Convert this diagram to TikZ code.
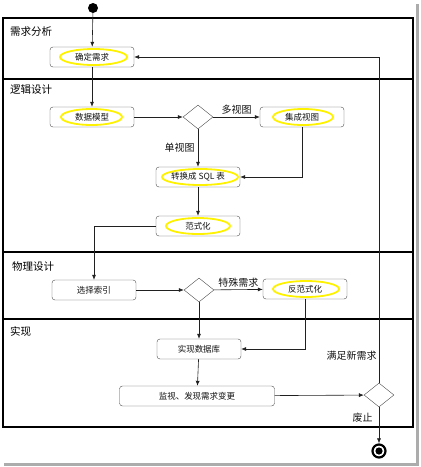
\documentclass[tikz,border=0pt]{standalone}
\usepackage{fontspec}
\setmainfont{Noto Sans CJK SC}
\usetikzlibrary{shapes.geometric,arrows.meta}

\begin{document}
\begin{tikzpicture}[x=1pt,y=-1pt,>={Latex[length=5pt,width=4pt]}]

      \useasboundingbox (0,0) rectangle (421,467);
      % frame shadow
      \fill[gray!65] (416,4) rectangle (419,466);
      \fill[gray!65] (4,463) rectangle (419,466);

      % lanes
      \draw[line width=1.6pt] (3,18) rectangle (413,427);
      \draw[line width=1.6pt] (3,79) -- (413,79);
      \draw[line width=1.6pt] (3,252) -- (413,252);
      \draw[line width=1.6pt] (3,319) -- (413,319);

      \begin{scope}[every node/.style={anchor=west, inner sep=0pt, font=\fontsize{10.5}{12}\selectfont}]
        \node (l1) at (10,32)  {需求分析};
        \node (l2) at (10,90)  {逻辑设计};
        \node (l3) at (12,267) {物理设计};
        \node (l4) at (10,331) {实现};
      \end{scope}

      \begin{scope}[every node/.style={rectangle, rounded corners=3pt, draw=gray!60!black, fill=white,
          minimum width=84pt, minimum height=20pt, inner sep=0pt, text=gray!15!black,
          font=\fontsize{8.5}{10}\selectfont}]
        \node (qr) at (92,57)  {确定需求};
        \node (sj) at (92,117) {数据模型};
        \node (jc) at (302,117) {集成视图};
        \node (zh) at (198,177) {转换成 SQL 表};
        \node (fs) at (198,226) {范式化};
        \node (xz) at (94,290) {选择索引};
        \node (ff) at (305,289) {反范式化};
        \node (sx) at (199,349) {实现数据库};
        \node[minimum width=155pt] (jk) at (197,396) {监视、发现需求变更};
      \end{scope}

      \begin{scope}[every node/.style={diamond, draw=gray!60!black, fill=white, inner sep=0pt,
          minimum width=30pt, minimum height=24pt}]
        \node (d1) at (198,117) {};
        \node (d2) at (199,290) {};
        \node (d3) at (379,395) {};
      \end{scope}

      \node[circle, fill=black, minimum size=10pt, inner sep=0pt] (start) at (93,8) {};
      \node[circle, draw=black, line width=2.2pt, minimum size=13pt, inner sep=0pt] (end) at (379,451) {};
      \fill (end) circle (3.6pt);

      % yellow marks
      \begin{scope}[yellow, line width=1.8pt]
        \draw (93.5,57) ellipse (33.5 and 8);
        \draw (91.5,117) ellipse (30.5 and 8);
        \draw (303,117) ellipse (30 and 8);
        \draw (200,177) ellipse (38 and 8);
        \draw (198,226) ellipse (32 and 8);
        \draw (306,289) ellipse (33 and 8);
      \end{scope}

      \begin{scope}[every node/.style={text=gray!15!black, font=\fontsize{10}{12}\selectfont}]
        \begin{scope}[every edge/.style={draw, ->, gray!25!black, line width=0.6pt}]
          \path (start) edge (qr);
          \path (qr) edge (sj);
          \path (sj) edge (d1);
          \path (d1) edge node[above, inner sep=2pt] {多视图} (jc);
          \path (d1) edge node[left, inner sep=3pt] {单视图} (zh);
          \path (jc.south) edge[to path={|- (\tikztotarget)}] (zh.east);
          \path (zh) edge (fs);
          \path (fs.west) edge[to path={-| (\tikztotarget)}] (xz.north);
          \path (xz) edge (d2);
          \path (d2) edge node[above, inner sep=2pt] {特殊需求} (ff);
          \path (d2) edge (sx);
          \path (ff.south) edge[to path={|- (\tikztotarget)}] (sx.east);
          \path (sx) edge (jk);
          \path (jk) edge (d3);
          \path (d3.north) edge[to path={|- (\tikztotarget) \tikztonodes}] node[pos=0.042, left, inner sep=2pt] {满足新需求} (qr.east);
          \path (d3) edge node[pos=0.3, left, inner sep=6pt] {废止} (end);
        \end{scope}
      \end{scope}

    \end{tikzpicture}
\end{document}
